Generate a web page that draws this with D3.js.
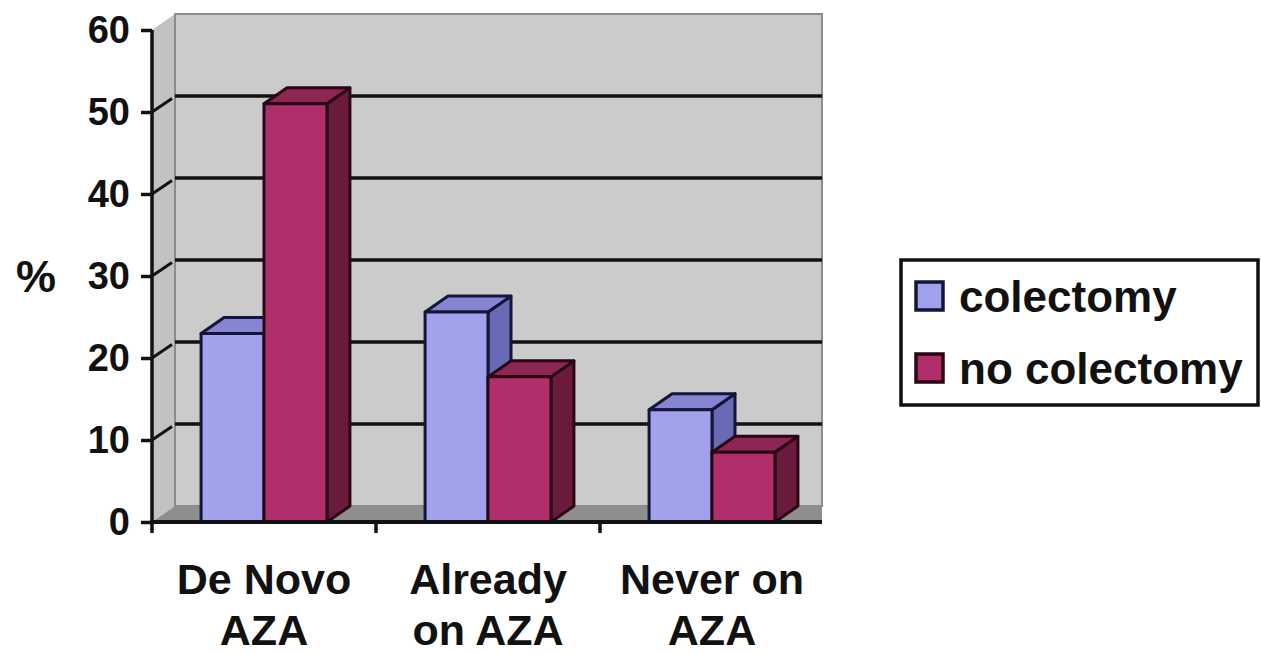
<!DOCTYPE html>
<html>
<head>
<meta charset="utf-8">
<script src="https://cdn.jsdelivr.net/npm/d3@7"></script>
<style>
  body { margin: 0; background: #fff; }
  text { font-family: "Liberation Sans", Arial, sans-serif; font-weight: bold; fill: #111; }
</style>
</head>
<body>
<div id="chart"></div>
<script>
// data
var categories = [["De Novo", "AZA"], ["Already", "on AZA"], ["Never on", "AZA"]];
var seriesNames = ["colectomy", "no colectomy"];
var colectomy = [23, 25.6, 13.7];
var noColectomy = [51, 17.7, 8.5];
var yTicks = [0, 10, 20, 30, 40, 50, 60];

var W = 1261, H = 654;
var depth = { dx: 23, dy: -16 };

// face colours per series: front, side, top, edge
var palette = [
  { front: "#a2a2ec", side: "#6a6ab4", top: "#8585d2", edge: "#14143c" },
  { front: "#b02f6a", side: "#6b1c3e", top: "#8c2652", edge: "#2a0614" }
];

var svg = d3.select("#chart").append("svg")
    .attr("width", W)
    .attr("height", H);

var y = d3.scaleLinear().domain([0, 60]).range([522, 30]);
var x = d3.scaleBand().domain(d3.range(categories.length)).range([152, 824]);
var xs = d3.scaleBand().domain(d3.range(seriesNames.length))
    .range([0, x.bandwidth()]).paddingOuter(0.78);

var x0 = x.range()[0];
var backRight = 822;

//--------------------------------------------------------------------------
// walls and floor

// left wall
svg.append("polygon")
    .attr("points", [[x0, y(60)], [x0 + depth.dx, y(60) + depth.dy],
      [x0 + depth.dx, y(0) + depth.dy], [x0, y(0)]].join(" "))
    .attr("fill", "#c2c2c2");

// back wall
svg.append("rect")
    .attr("x", x0 + depth.dx)
    .attr("y", y(60) + depth.dy)
    .attr("width", backRight - x0 - depth.dx)
    .attr("height", y(0) - y(60))
    .attr("fill", "#cbcbcb")
    .attr("stroke", "#8c8c8c")
    .attr("stroke-width", 2);

// corner line between walls
svg.append("line")
    .attr("x1", x0 + depth.dx).attr("x2", x0 + depth.dx)
    .attr("y1", y(60) + depth.dy).attr("y2", y(0) + depth.dy)
    .attr("stroke", "#8c8c8c").attr("stroke-width", 2);

// floor
svg.append("polygon")
    .attr("points", [[x0, y(0)], [x0 + depth.dx, y(0) + depth.dy],
      [backRight, y(0) + depth.dy], [backRight, y(0)]].join(" "))
    .attr("fill", "#8e8e8e");

// gridlines on back wall and left wall
var inner = yTicks.filter(function(d) { return d > 0 && d < 60; });
var grid = svg.append("g");
grid.selectAll("line.back")
    .data(inner)
  .enter().append("line")
    .attr("class", "back")
    .attr("x1", x0 + depth.dx).attr("x2", backRight)
    .attr("y1", function(d) { return y(d) + depth.dy; })
    .attr("y2", function(d) { return y(d) + depth.dy; })
    .attr("stroke", "#111").attr("stroke-width", 3.5);
grid.selectAll("line.side")
    .data(inner)
  .enter().append("line")
    .attr("class", "side")
    .attr("x1", x0).attr("x2", x0 + depth.dx - 3)
    .attr("y1", function(d) { return y(d); })
    .attr("y2", function(d) { return y(d) + depth.dy * 0.85; })
    .attr("stroke", "#111").attr("stroke-width", 3);

//--------------------------------------------------------------------------
// 3D bars

var allSeries = [colectomy, noColectomy];
var bars = svg.append("g");

categories.forEach(function(c, ci) {
  allSeries.forEach(function(vals, si) {
    var v = vals[ci];
    var bx = x(ci) + xs(si), bw = xs.bandwidth();
    var top = y(v), bottom = y(0);
    var col = palette[si];
    var g = bars.append("g")
        .attr("stroke", col.edge)
        .attr("stroke-width", 3)
        .attr("stroke-linejoin", "round");
    // side face
    g.append("polygon")
        .attr("points", [[bx + bw, top], [bx + bw + depth.dx, top + depth.dy],
          [bx + bw + depth.dx, bottom + depth.dy], [bx + bw, bottom]].join(" "))
        .attr("fill", col.side);
    // top face
    g.append("polygon")
        .attr("points", [[bx, top], [bx + depth.dx, top + depth.dy],
          [bx + bw + depth.dx, top + depth.dy], [bx + bw, top]].join(" "))
        .attr("fill", col.top);
    // front face
    g.append("rect")
        .attr("x", bx).attr("y", top)
        .attr("width", bw).attr("height", bottom - top)
        .attr("fill", col.front);
  });
});

//--------------------------------------------------------------------------
// axes

var yAxis = svg.append("g")
    .attr("transform", "translate(" + x0 + ",0)")
    .call(d3.axisLeft(y).tickValues(yTicks).tickSize(11).tickPadding(11));
yAxis.select(".domain").attr("stroke", "#111").attr("stroke-width", 3.5)
    .attr("d", "M0," + y(60) + "V" + y(0));
yAxis.selectAll(".tick line").attr("stroke", "#111").attr("stroke-width", 3.5);
yAxis.selectAll(".tick text")
    .style("font-size", "38px")
    .style("font-family", "'Liberation Sans', Arial, sans-serif")
    .style("font-weight", "bold")
    .attr("fill", "#111");

// x axis line and category ticks
svg.append("line")
    .attr("x1", x0 - 2).attr("x2", backRight)
    .attr("y1", y(0)).attr("y2", y(0))
    .attr("stroke", "#111").attr("stroke-width", 4);
svg.selectAll("line.xtick")
    .data(d3.range(categories.length))
  .enter().append("line")
    .attr("class", "xtick")
    .attr("x1", function(d) { return x(d); })
    .attr("x2", function(d) { return x(d); })
    .attr("y1", y(0)).attr("y2", y(0) + 11)
    .attr("stroke", "#111").attr("stroke-width", 3.5);

var labels = svg.selectAll("text.cat")
    .data(categories)
  .enter().append("text")
    .attr("class", "cat")
    .attr("text-anchor", "middle")
    .style("font-size", "43px")
    .attr("transform", function(d, i) {
      return "translate(" + (x(i) + x.bandwidth() / 2) + ",0)";
    });
labels.selectAll("tspan")
    .data(function(d) { return d; })
  .enter().append("tspan")
    .attr("x", 0)
    .attr("y", function(d, i) { return 594 + i * 51; })
    .text(function(d) { return d; });

// axis title
svg.append("text")
    .attr("x", 36).attr("y", 292)
    .attr("text-anchor", "middle")
    .style("font-size", "45px")
    .text("%");

//--------------------------------------------------------------------------
// legend

var legend = svg.append("g");
legend.append("rect")
    .attr("x", 901).attr("y", 260)
    .attr("width", 357).attr("height", 145)
    .attr("fill", "#fff")
    .attr("stroke", "#111").attr("stroke-width", 3.5);

var items = legend.selectAll("g.item")
    .data(seriesNames)
  .enter().append("g")
    .attr("class", "item")
    .attr("transform", function(d, i) { return "translate(916," + (282 + i * 72) + ")"; });
items.append("rect")
    .attr("width", 27).attr("height", 28)
    .attr("fill", function(d, i) { return palette[i].front; })
    .attr("stroke", function(d, i) { return palette[i].edge; })
    .attr("stroke-width", 3.5);
items.append("text")
    .attr("x", 43).attr("y", 30)
    .style("font-size", "44px")
    .text(function(d) { return d; });
</script>
</body>
</html>
